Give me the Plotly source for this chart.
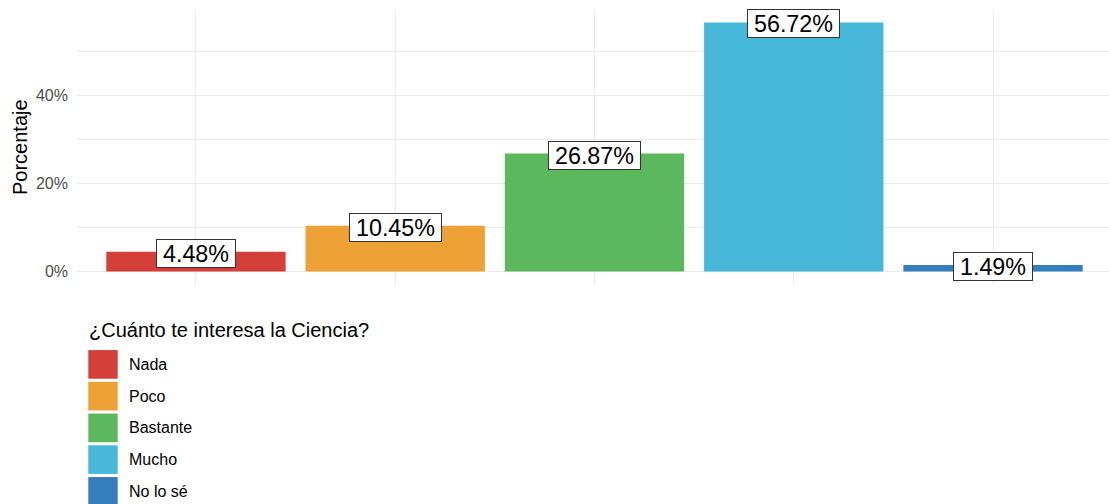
import plotly.graph_objects as go

categories = ["Nada", "Poco", "Bastante", "Mucho", "No lo sé"]
values = [4.48, 10.45, 26.87, 56.72, 1.49]
colors = ["#D43F3A", "#EEA236", "#5CB85C", "#46B8DA", "#357EBD"]
y_ticks = [0, 20, 40]
y_tick_labels = ["0%", "20%", "40%"]
legend_title = "¿Cuánto te interesa la Ciencia?"
y_title = "Porcentaje"

W, H = 1109, 504
L, R, T, B = 77, 1109, 10, 284.5  # plot area in pixels
FONT = "Liberation Sans, Arial, Helvetica"
LABEL_SIZE = 23.3

def px_x(px):
    return (px - L) / (R - L)

def px_y(py):
    return (B - py) / (B - T)

def text_width(s, size):
    em = {".": 0.278, "%": 0.889}
    return sum(em.get(ch, 0.556) for ch in s) * size

fig = go.Figure()
fig.add_trace(go.Bar(
    x=categories, y=values, marker=dict(color=colors, line=dict(width=0)),
    width=0.9, showlegend=False, hoverinfo="skip",
))

vmax = max(values)
pad = vmax * 0.05

annotations = []
for c, v in zip(categories, values):
    txt = f"{v:.2f}%"
    annotations.append(dict(
        x=c, y=v, xref="x", yref="y", text=txt, showarrow=False,
        xanchor="center", yanchor="middle", yshift=-1.5,
        width=text_width(txt, LABEL_SIZE) + 10, height=25,
        font=dict(family=FONT, size=LABEL_SIZE, color="black"),
        bgcolor="white", bordercolor="#333333", borderwidth=1, borderpad=1,
    ))

# y axis title
annotations.append(dict(
    x=px_x(20), y=0.5, xref="paper", yref="paper", text=y_title, showarrow=False,
    textangle=-90, xanchor="center", yanchor="middle",
    font=dict(family=FONT, size=20, color="black"),
))

# legend (manual, ggplot style)
annotations.append(dict(
    x=px_x(87), y=px_y(331), xref="paper", yref="paper", text=legend_title,
    showarrow=False, xanchor="left", yanchor="middle",
    font=dict(family=FONT, size=20, color="black"),
))
shapes = []
key_top, key_step, key_h, key_x0, key_x1 = 350.7, 31.8, 28.7, 88.3, 117.7
for i, (c, col) in enumerate(zip(categories, colors)):
    y0 = key_top + i * key_step
    shapes.append(dict(
        type="rect", xref="paper", yref="paper",
        x0=px_x(key_x0), x1=px_x(key_x1), y0=px_y(y0), y1=px_y(y0 + key_h),
        fillcolor=col, line=dict(width=0), layer="above",
    ))
    annotations.append(dict(
        x=px_x(127), y=px_y(y0 + key_h / 2), xref="paper", yref="paper", text=c,
        showarrow=False, xanchor="left", yanchor="middle",
        font=dict(family=FONT, size=16, color="black"),
    ))

x_lo = -0.5 - 0.1 + 0.003
x_hi = 4.5 + 0.1 - 0.018
fig.update_layout(
    width=W, height=H,
    margin=dict(l=L, r=W - R, t=T, b=H - B),
    paper_bgcolor="white", plot_bgcolor="white",
    showlegend=False,
    bargap=0.1,
    xaxis=dict(
        type="category", categoryorder="array", categoryarray=categories,
        range=[x_lo, x_hi], showticklabels=False, ticks="",
        showgrid=True, gridcolor="#EBEBEB", gridwidth=1.1, zeroline=False,
        showline=False, fixedrange=True,
    ),
    yaxis=dict(
        range=[-pad, vmax + pad], tickvals=y_ticks, ticktext=y_tick_labels,
        tickfont=dict(family=FONT, size=16, color="#4D4D4D"),
        ticks="", ticklabelstandoff=8,
        showgrid=True, gridcolor="#EBEBEB", gridwidth=1.1, zeroline=False,
        showline=False,
        minor=dict(tickvals=[10, 30, 50], showgrid=True, gridcolor="#EBEBEB",
                   gridwidth=0.8, ticks=""),
    ),
    annotations=annotations,
    shapes=shapes,
)

fig.write_html("out.html", config={"displayModeBar": False},
               post_script="document.body.style.margin='0';")
